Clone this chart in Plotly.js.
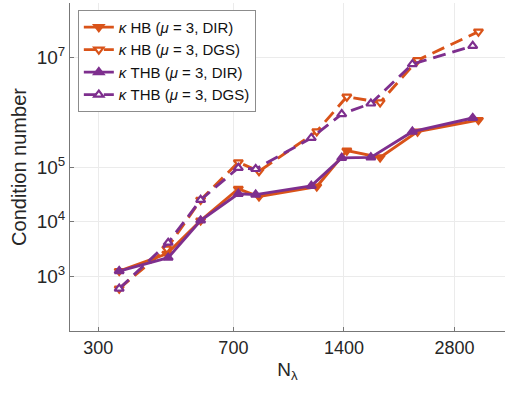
<!DOCTYPE html>
<html>
<head>
<meta charset="utf-8">
<script src="https://cdn.plot.ly/plotly-3.0.1.min.js"></script>
<style>html,body{margin:0;padding:0;background:#fff;}#chart{width:507px;height:398px;}</style>
</head>
<body>
<div id="chart"></div>
<script>
// N_lambda values (degrees of freedom) per method
const nHB  = [342, 461, 570, 722, 822, 1181, 1426, 1757, 2222, 3256];
const nTHB = [342, 465, 570, 722, 805, 1141, 1381, 1658, 2151, 3141];
// condition numbers
const hbDIR  = [1250, 2590, 10500, 39800, 28800, 43900, 199000, 150000, 443000, 723000];
const hbDGS  = [597, 3200, 25000, 122000, 83600, 448000, 1930000, 1520000, 9000000, 29900000];
const thbDIR = [1250, 2190, 10500, 32300, 31300, 45200, 147000, 150000, 443000, 787000];
const thbDGS = [597, 4120, 25000, 96600, 92000, 340000, 930000, 1450000, 7600000, 16400000];
// tick labels
const xTicks = [300, 700, 1400, 2800];
const yTicks = [1e3, 1e4, 1e5, 1e7];
const yTickText = ['10<sup>3</sup>', '10<sup>4</sup>', '10<sup>5</sup>', '10<sup>7</sup>'];
const names = [
  '<i>κ</i> HB (<i>μ</i> = 3, DIR)',
  '<i>κ</i> HB (<i>μ</i> = 3, DGS)',
  '<i>κ</i> THB (<i>μ</i> = 3, DIR)',
  '<i>κ</i> THB (<i>μ</i> = 3, DGS)'
];

const orange = '#D95319';
const purple = '#7E2F8E';

function tr(x, y, name, color, dash, sym, filled) {
  return {
    x: x, y: y, name: name, type: 'scatter', mode: 'lines+markers',
    line: {color: color, width: 2.9, dash: dash},
    marker: {symbol: sym, size: 8, color: filled ? color : '#ffffff',
             line: {color: color, width: 2.2}}
  };
}

const data = [
  tr(nHB, hbDIR, names[0], orange, 'solid', 'triangle-down', true),
  tr(nHB, hbDGS, names[1], orange, '13px,7px', 'triangle-down', false),
  tr(nTHB, thbDIR, names[2], purple, 'solid', 'triangle-up', true),
  tr(nTHB, thbDGS, names[3], purple, '13px,7px', 'triangle-up', false)
];

const fontFam = 'Liberation Sans, Arial, Helvetica, sans-serif';
const layout = {
  width: 507, height: 398,
  margin: {l: 70, r: 2, t: 3, b: 67},
  paper_bgcolor: '#ffffff', plot_bgcolor: '#ffffff',
  font: {family: fontFam, color: '#262626', size: 18},
  showlegend: true,
  legend: {
    x: 0.018, y: 0.979, xanchor: 'left', yanchor: 'top',
    bgcolor: '#ffffff', bordercolor: '#8c8c8c', borderwidth: 1,
    font: {family: fontFam, size: 15, color: '#111'},
    tracegroupgap: 0, itemwidth: 30
  },
  xaxis: {
    type: 'log', range: [2.4, 3.585],
    tickvals: xTicks, ticktext: xTicks.map(String),
    ticks: 'inside', ticklen: 4, tickcolor: '#777',
    showline: true, linecolor: '#777', linewidth: 1, mirror: false,
    showgrid: true, gridcolor: '#ebebeb', gridwidth: 1, zeroline: false,
    tickfont: {size: 18, color: '#262626'},
    title: {text: 'N<sub>λ</sub>', font: {size: 19, color: '#262626'}, standoff: 6}
  },
  yaxis: {
    type: 'log', range: [2, 8],
    tickvals: yTicks, ticktext: yTickText,
    ticks: 'inside', ticklen: 4, tickcolor: '#777',
    showline: true, linecolor: '#777', linewidth: 1, mirror: false,
    showgrid: true, gridcolor: '#ebebeb', gridwidth: 1, zeroline: false,
    tickfont: {size: 19, color: '#262626'},
    title: {text: 'Condition number', font: {size: 20, color: '#262626'}, standoff: 4}
  }
};

Plotly.newPlot('chart', data, layout, {displayModeBar: false, staticPlot: true});
</script>
</body>
</html>
